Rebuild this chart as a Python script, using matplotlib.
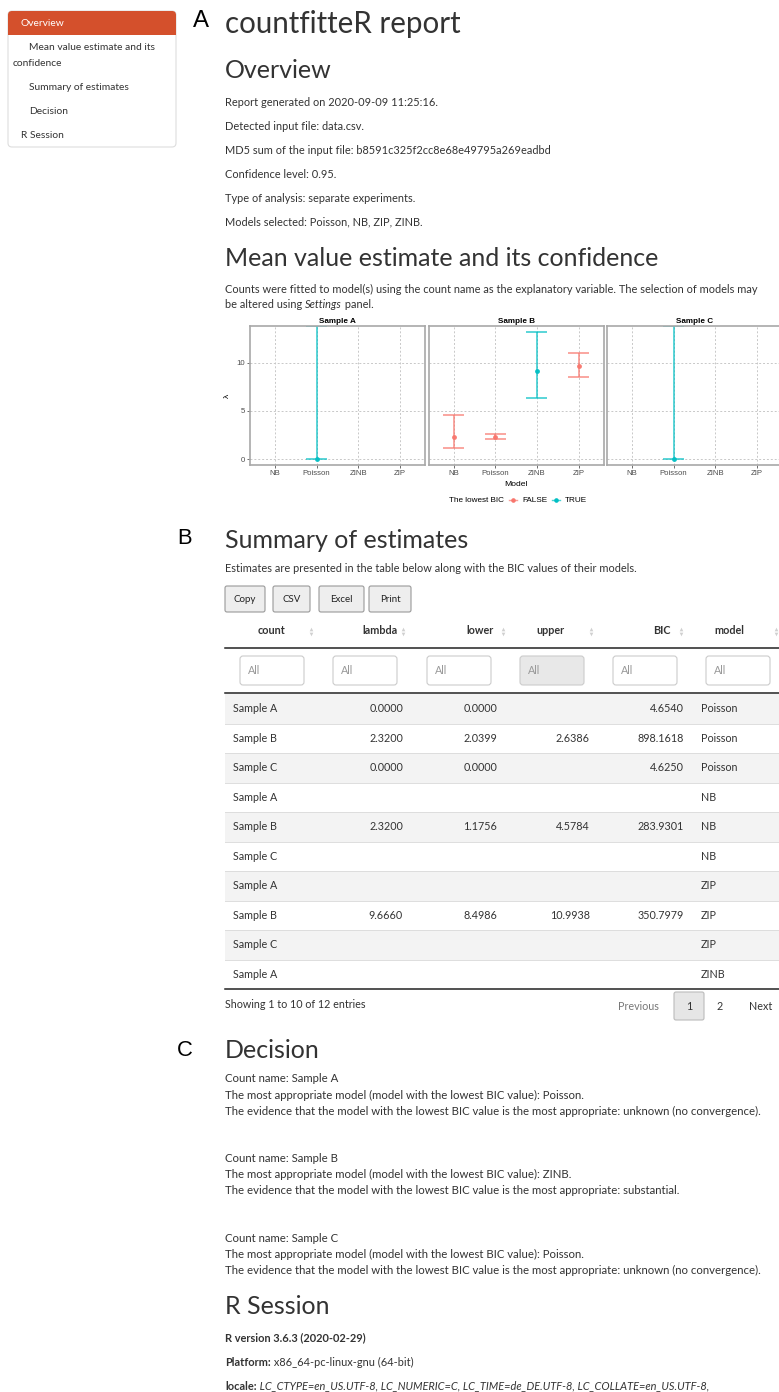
import numpy as np
import matplotlib.pyplot as plt
from matplotlib.patches import Rectangle, FancyBboxPatch

plt.rcParams['font.family'] = ['Lato', 'DejaVu Sans']

W, H = 779, 1392

# ---- report content ----
nav_items = ["Mean value estimate and its", "confidence", "Summary of estimates", "Decision", "R Session"]
overview_lines = [
    "Report generated on 2020-09-09 11:25:16.",
    "Detected input file: data.csv.",
    "MD5 sum of the input file: b8591c325f2cc8e68e49795a269eadbd",
    "Confidence level: 0.95.",
    "Type of analysis: separate experiments.",
    "Models selected: Poisson, NB, ZIP, ZINB.",
]

samples = ["Sample A", "Sample B", "Sample C"]
models = ["NB", "Poisson", "ZINB", "ZIP"]

# fitted means with confidence bounds (nan upper = unbounded)
fit_count = ["Sample A", "Sample B", "Sample B", "Sample B", "Sample B", "Sample C"]
fit_model = ["Poisson", "NB", "Poisson", "ZINB", "ZIP", "Poisson"]
fit_lambda = [0.0, 2.32, 2.32, 9.17, 9.666, 0.0]
fit_lower = [0.0, 1.1756, 2.0399, 6.37, 8.4986, 0.0]
fit_upper = [np.nan, 4.5784, 2.6386, 13.15, 10.9938, np.nan]
fit_best = [True, False, False, True, False, True]

# first page of the estimates table
columns = ["count", "lambda", "lower", "upper", "BIC", "model"]
tbl_count = ["Sample A", "Sample B", "Sample C"] * 3 + ["Sample A"]
tbl_lambda = [0.0, 2.32, 0.0, None, 2.32, None, None, 9.666, None, None]
tbl_lower = [0.0, 2.0399, 0.0, None, 1.1756, None, None, 8.4986, None, None]
tbl_upper = [None, 2.6386, None, None, 4.5784, None, None, 10.9938, None, None]
tbl_bic = [4.654, 898.1618, 4.625, None, 283.9301, None, None, 350.7979, None, None]
tbl_model = ["Poisson"] * 3 + ["NB"] * 3 + ["ZIP"] * 3 + ["ZINB"]

decisions = [
    ("Sample A", "Poisson", "unknown (no convergence)"),
    ("Sample B", "ZINB", "substantial"),
    ("Sample C", "Poisson", "unknown (no convergence)"),
]

fig = plt.figure(figsize=(W / 100, H / 100), dpi=100)
page = fig.add_axes([0, 0, 1, 1])
page.set_xlim(0, W)
page.set_ylim(H, 0)
page.axis('off')
renderer = fig.canvas.get_renderer()

ink = '#333333'
PX = 72 / 100  # points per pixel
BODY = 11.0
TABLE = 10.8
DEC = 11.4
H1, H2 = 29.5, 25


def txt(x, y, s, px, **kw):
    kw.setdefault('color', ink)
    kw.setdefault('va', 'center')
    return page.text(x, y, s, fontsize=px * PX, **kw)


def run(x, y, parts, px=BODY):
    # consecutive pieces of text with different styles on one line
    for s, style in parts:
        t = txt(x, y, s, px, **style)
        x += t.get_window_extent(renderer).width


# ---- sidebar ----
page.add_patch(FancyBboxPatch((8, 11), 168, 136, boxstyle='round,pad=0,rounding_size=4',
                              fc='white', ec='#dddddd', lw=0.8))
page.add_patch(FancyBboxPatch((8, 11), 168, 24, boxstyle='round,pad=0,rounding_size=4',
                              fc='#d4502c', ec='none'))
page.add_patch(Rectangle((8, 25), 168, 10, fc='#d4502c', ec='none'))
txt(21, 23, "Overview", 10.2, color='white')
nav_xy = [(29, 47), (13, 63), (29, 87), (29, 111), (21, 135)]
for s, (x, y) in zip(nav_items, nav_xy):
    txt(x, y, s, 10.2)

# ---- section A ----
txt(193, 21, "A", 24, family='Liberation Sans', color='black')
txt(225, 24, "countfitteR report", H1)
txt(225, 71, "Overview", H2)
for i, s in enumerate(overview_lines):
    txt(225, 102 + 24 * i, s, BODY)

txt(225, 258, "Mean value estimate and its confidence", H2)
txt(225, 289, "Counts were fitted to model(s) using the count name as the explanatory variable. "
              "The selection of models may", BODY)
run(225, 305, [("be altered using ", {}), ("Settings", {'style': 'italic'}), (" panel.", {})])

# ---- faceted error-bar plot ----
pal = {False: '#F8766D', True: '#00BFC4'}
gg = 'Liberation Sans'
pan_left = [250, 428.5, 607]
pan_w, pan_top, pan_h = 175, 326, 139
for i, s in enumerate(samples):
    ax = fig.add_axes([pan_left[i] / W, 1 - (pan_top + pan_h) / H, pan_w / W, pan_h / H])
    ax.set_xlim(-0.6, 3.6)
    ax.set_ylim(-0.62, 13.8)
    ax.set_xticks(range(len(models)))
    ax.set_xticklabels(models, family=gg)
    ax.set_yticks([0, 5, 10])
    ax.grid(True, ls=(0, (2, 2)), color='#c8c8c8', lw=0.7)
    ax.set_axisbelow(True)
    for sp in ax.spines.values():
        sp.set_color('#a8a8a8')
        sp.set_linewidth(1.2)
    ax.tick_params(length=2, width=0.6, color='#555555', labelsize=7.8 * PX,
                   labelcolor='#4d4d4d', pad=1.5)
    if i == 0:
        ax.set_ylabel("λ", fontsize=8.5 * PX, family=gg, labelpad=4)
        for lab in ax.get_yticklabels():
            lab.set_family(gg)
    else:
        ax.tick_params(axis='y', left=False, labelleft=False)
    ax.set_title(s, fontsize=8.2 * PX, fontweight='bold', family=gg, pad=2.5)
    top = ax.get_ylim()[1]
    for c, m, lam, lo, up, best in zip(fit_count, fit_model, fit_lambda, fit_lower, fit_upper, fit_best):
        if c != s:
            continue
        xi = models.index(m)
        hi = up if np.isfinite(up) else top
        col = pal[best]
        ax.vlines(xi, lo, hi, color=col, lw=1.3, alpha=0.7)
        ax.hlines([lo, hi], xi - 0.25, xi + 0.25, color=col, lw=1.3, alpha=0.7)
        ax.plot(xi, lam, 'o', ms=2.5, color=col, alpha=0.9)

txt(516, 485, "Model", 8.5, family=gg, ha='center', color='black')
txt(504, 500, "The lowest BIC", 8.2, family=gg, ha='right', color='black')
for k, (xk, lab) in enumerate([(513, "FALSE"), (556, "TRUE")]):
    col = pal[bool(k)]
    page.plot([xk - 4, xk + 4], [500, 500], color=col, lw=1, alpha=0.7)
    page.plot(xk, 500, 'o', ms=2.3, color=col)
    txt(xk + 9, 500, lab, 8.2, family=gg, color='black')

# ---- section B: table ----
txt(177, 538, "B", 22, family='Liberation Sans', color='black')
txt(225, 541, "Summary of estimates", H2)
txt(225, 569, "Estimates are presented in the table below along with the BIC values of their models.", BODY)

for lab, x0, x1 in [("Copy", 225, 265), ("CSV", 273, 310), ("Excel", 319, 364), ("Print", 369, 411)]:
    page.add_patch(FancyBboxPatch((x0, 586), x1 - x0, 26, boxstyle='round,pad=0,rounding_size=2',
                                  fc='#eeeeee', ec='#999999', lw=0.8))
    txt((x0 + x1) / 2, 599, lab, 9.8, ha='center', color='#222222')

box_left = [240, 333, 427, 520, 613, 706]
head_x = [272, 398, 494, 550, 671, 714]
head_ha = ['center', 'right', 'right', 'center', 'right', 'left']
arrow_x = [311, 403, 503, 591, 681, 776]
value_right = [None, 403, 497, 590, 684, None]
for j, name in enumerate(columns):
    txt(head_x[j], 631, name, TABLE, ha=head_ha[j], fontweight='bold')
    page.plot(arrow_x[j], 628.5, marker='^', ms=2.6, color='#d0d0d0', mec='none')
    page.plot(arrow_x[j], 633.5, marker='v', ms=2.6, color='#d0d0d0', mec='none')
    page.add_patch(FancyBboxPatch((box_left[j], 656), 64, 29, boxstyle='round,pad=0,rounding_size=3',
                                  fc='#e8e8e8' if name == "upper" else 'white', ec='#cccccc', lw=0.8))
    txt(box_left[j] + 8, 671, "All", TABLE, color='#999999')
page.plot([225, W], [648, 648], color='#222222', lw=1.1)
page.plot([225, W], [693, 693], color='#222222', lw=1.1)

row_h = 29.5
for r in range(len(tbl_count)):
    y0 = 694 + r * row_h
    if r % 2 == 0:
        page.add_patch(Rectangle((225, y0), W - 225, row_h, fc='#f3f3f3', ec='none'))
    if r > 0:
        page.plot([225, W], [y0, y0], color='#dddddd', lw=0.7)
    yc = y0 + row_h / 2
    txt(233, yc, tbl_count[r], TABLE)
    for j, vals in [(1, tbl_lambda), (2, tbl_lower), (3, tbl_upper), (4, tbl_bic)]:
        if vals[r] is not None:
            txt(value_right[j], yc, f"{vals[r]:.4f}", TABLE, ha='right')
    txt(701, yc, tbl_model[r], TABLE)
page.plot([225, W], [989, 989], color='#222222', lw=1.1)

txt(225, 1005, "Showing 1 to 10 of 12 entries", TABLE)
txt(638, 1006, "Previous", TABLE, ha='center', color='#777777')
page.add_patch(FancyBboxPatch((674, 992), 30, 28, boxstyle='round,pad=0,rounding_size=2',
                              fc='#e6e6e6', ec='#bbbbbb', lw=0.8))
txt(689, 1006, "1", TABLE, ha='center')
txt(720, 1006, "2", TABLE, ha='center')
txt(749, 1006, "Next", TABLE)

# ---- section C: decision ----
txt(177, 1050, "C", 22, family='Liberation Sans', color='black')
txt(225, 1050, "Decision", H2)
for k, (name, best, evidence) in enumerate(decisions):
    y = 1079 + 79.5 * k
    txt(225, y, f"Count name: {name}", DEC)
    txt(225, y + 16, f"The most appropriate model (model with the lowest BIC value): {best}.", DEC)
    txt(225, y + 32, "The evidence that the model with the lowest BIC value is the most appropriate: "
                     f"{evidence}.", DEC)

txt(225, 1307, "R Session", H2)
txt(225, 1338, "R version 3.6.3 (2020-02-29)", BODY, fontweight='bold')
run(225, 1362, [("Platform:", {'fontweight': 'bold'}), (" x86_64-pc-linux-gnu (64-bit)", {})])
run(225, 1386, [("locale:", {'fontweight': 'bold'}),
                (" LC_CTYPE=en_US.UTF-8, LC_NUMERIC=C, LC_TIME=de_DE.UTF-8, LC_COLLATE=en_US.UTF-8,",
                 {'style': 'italic'})])

fig.savefig("out.png", dpi=100)
